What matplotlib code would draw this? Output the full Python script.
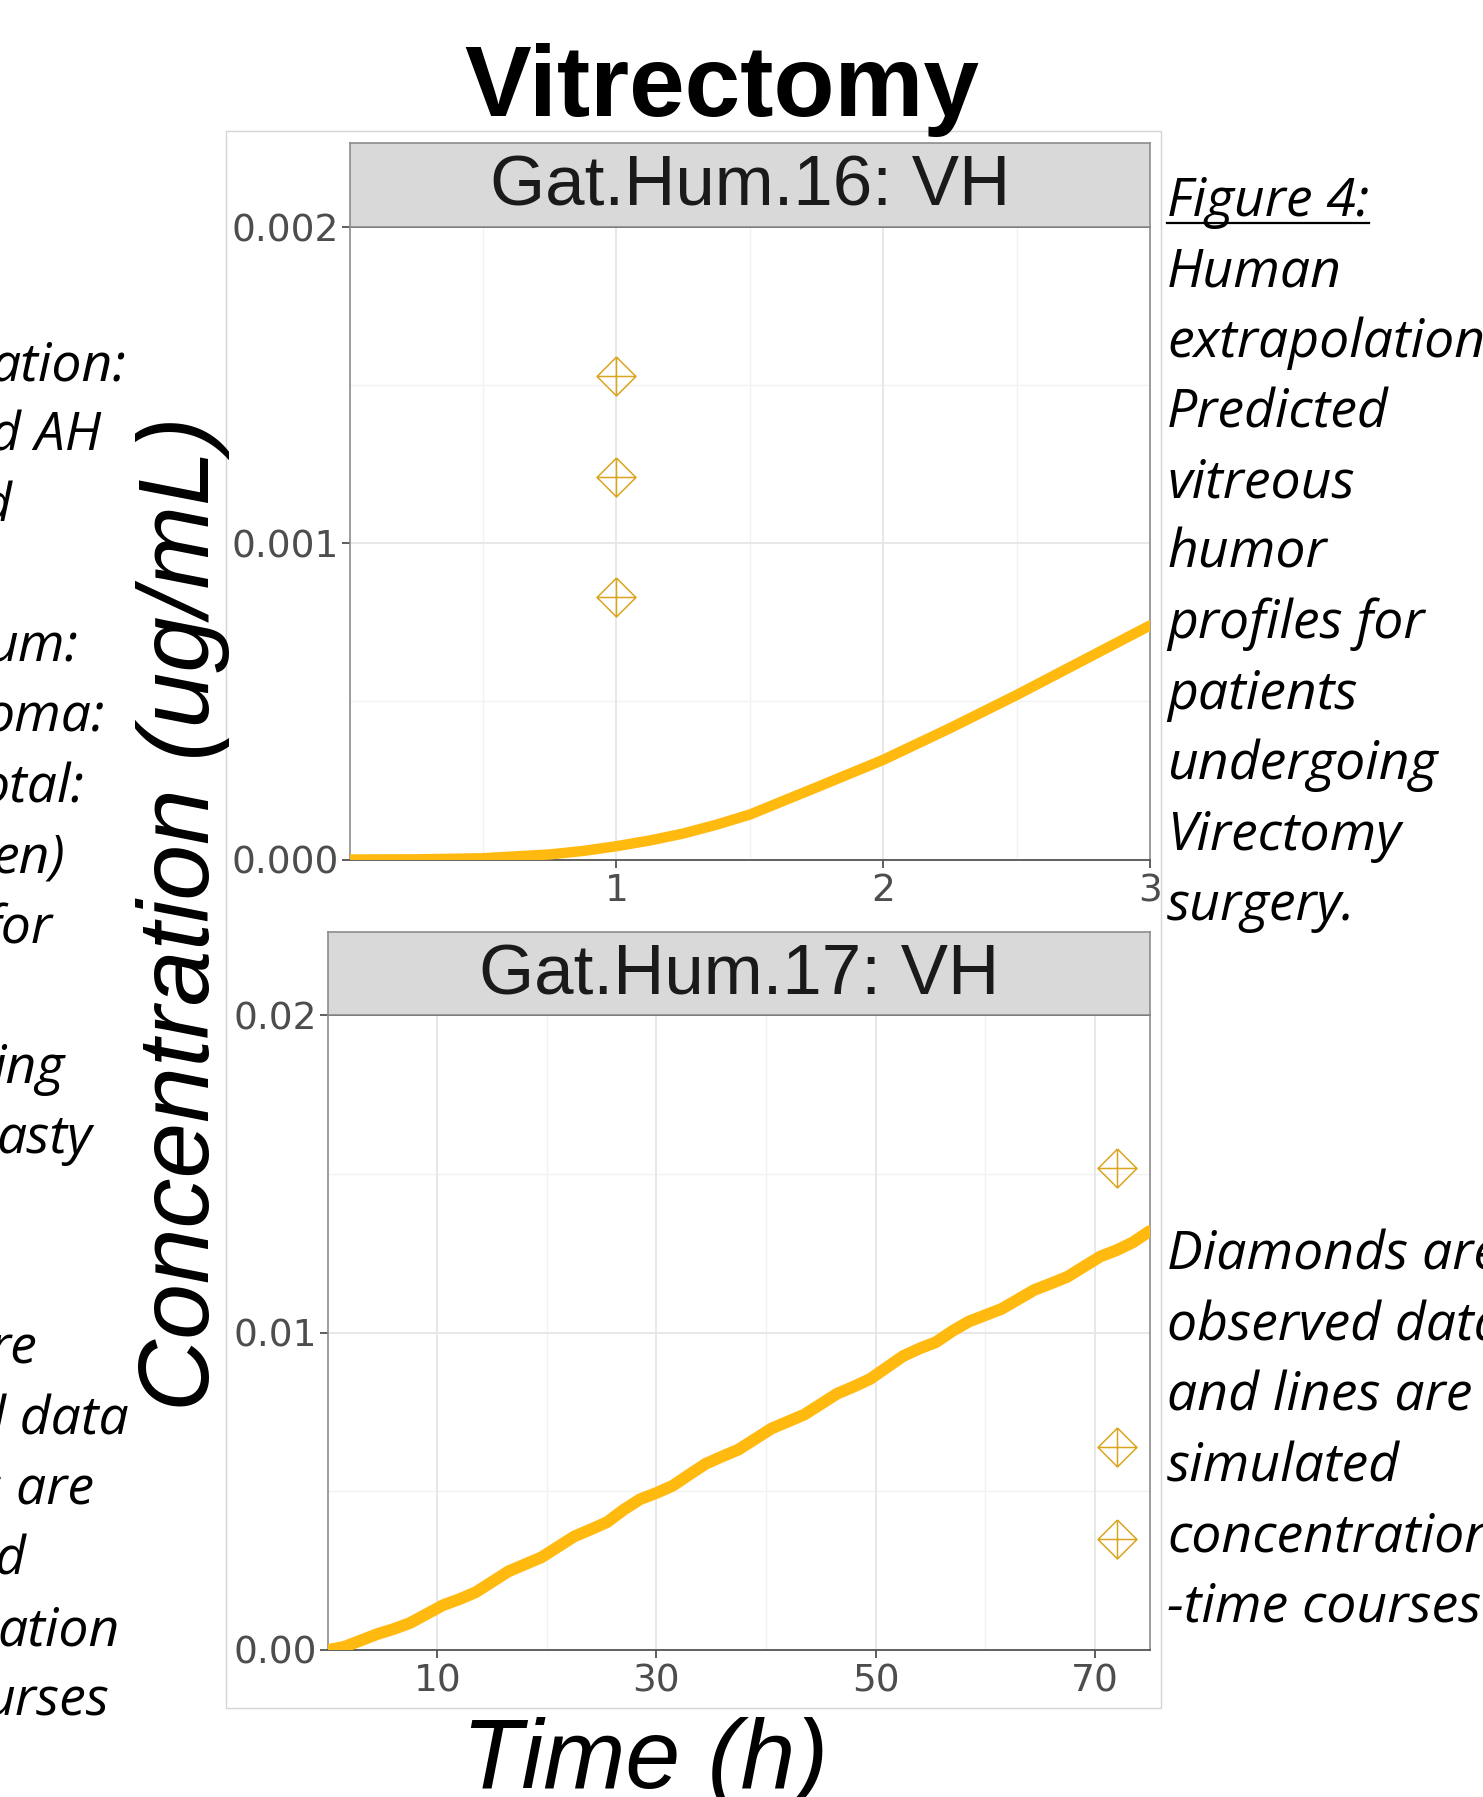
import numpy as np
import matplotlib
matplotlib.use("Agg")
import matplotlib.pyplot as plt
from matplotlib.path import Path
from matplotlib.patches import Rectangle
from matplotlib.lines import Line2D

W, H = 1483, 1797

# --- data ---
# Gat.Hum.16: VH  (time in h, concentration in ug/mL)
sim16_t = [0, 0.25, 0.5, 0.75, 0.875, 1, 1.125, 1.25, 1.375, 1.5, 1.625, 1.75,
           2, 2.25, 2.5, 2.75, 3]
sim16_c = [0, 0.0000005, 0.000004, 0.000016, 0.000027, 0.000042, 0.00006, 0.000082,
           0.00011, 0.000142, 0.000185, 0.000228, 0.000315, 0.000415, 0.00052,
           0.00063, 0.00074]
obs16_t = [1, 1, 1]
obs16_c = [0.00153, 0.00121, 0.00083]

# Gat.Hum.17: VH
sim17_t = [0, 1.5, 3, 4.5, 6, 7.5, 9, 10.5, 12, 13.5, 15, 16.5, 18, 19.5, 21, 22.5,
           24, 25.5, 27, 28.5, 30, 31.5, 33, 34.5, 36, 37.5, 39, 40.5, 42, 43.5,
           45, 46.5, 48, 49.5, 51, 52.5, 54, 55.5, 57, 58.5, 60, 61.5, 63, 64.5,
           66, 67.5, 69, 70.5, 72, 73.5, 75]
sim17_c = [0, 0.0001, 0.0003, 0.0005, 0.00066, 0.00085, 0.00113, 0.00141, 0.0016,
           0.00182, 0.00215, 0.00248, 0.0027, 0.00292, 0.00325, 0.00358, 0.0038,
           0.00403, 0.00442, 0.00475, 0.00495, 0.00518, 0.00553, 0.00587, 0.0061,
           0.00632, 0.00665, 0.00698, 0.0072, 0.00742, 0.00775, 0.00808, 0.0083,
           0.00854, 0.0089, 0.00926, 0.0095, 0.0097, 0.01005, 0.01035, 0.01055,
           0.01075, 0.01105, 0.01135, 0.01155, 0.01176, 0.01208, 0.0124, 0.0126,
           0.01285, 0.0132]
obs17_t = [72, 72, 72]
obs17_c = [0.0152, 0.0064, 0.0035]

right_top = ["Figure 4:", "Human", "extrapolation", "Predicted", "vitreous", "humor",
             "profiles for", "patients", "undergoing", "Virectomy", "surgery."]
right_bottom = ["Diamonds are", "observed data", "and lines are", "simulated",
                "concentration", "-time courses"]
# clipped text of the neighbouring column: (line index, fragment, right end px)
left_frags = [(-2, ".", 4), (0, "ation:", 126), (1, "d AH", 101), (2, "d", 11),
              (4, "um:", 78), (5, "oma:", 105), (6, "otal:", 84), (7, "en)", 65),
              (8, "for", 52), (10, "ing", 65), (11, "asty", 92), (14, "re", 37),
              (15, "d data", 129), (16, "s are", 94), (17, "d", 25),
              (18, "ation", 120), (19, "urses", 109)]

LINE_C = "#FFB90F"
OBS_C = "#DAA520"
CAP_FONT = dict(family=["Open Sans", "DejaVu Sans"], style="italic", size=38.5, color="black")

v = [(0, 1), (1, 0), (0, -1), (-1, 0), (0, 1), (-1, 0), (1, 0), (0, 1), (0, -1)]
c = [Path.MOVETO, Path.LINETO, Path.LINETO, Path.LINETO, Path.LINETO,
     Path.MOVETO, Path.LINETO, Path.MOVETO, Path.LINETO]
diamond_plus = Path(v, c)

fig = plt.figure(figsize=(W / 100, H / 100), dpi=100)
fig.patch.set_facecolor("white")


def box(x0, y0, x1, y1):
    return [x0 / W, 1 - y1 / H, (x1 - x0) / W, (y1 - y0) / H]


def ftext(x, y, s, **kw):
    return fig.text(x / W, 1 - y / H, s, **kw)


# outer plot frame
fig.patches.append(Rectangle((226 / W, 1 - 1708 / H), (1161 - 226) / W, (1708 - 131) / H,
                             transform=fig.transFigure, fill=False,
                             edgecolor="#D5D5D5", lw=1.0))


def panel(rect, strip_rect, title, t, conc, ot, oc, xlim, xt, xminor, yt, ylab, yminor, lw):
    ax = fig.add_axes(rect)
    ax.set_xlim(*xlim)
    ax.set_ylim(yt[0], yt[-1])
    for g in xminor:
        ax.axvline(g, color="#F2F2F2", lw=1.0, zorder=0)
    for g in yminor:
        ax.axhline(g, color="#F2F2F2", lw=1.0, zorder=0)
    for g in xt:
        ax.axvline(g, color="#E6E6E6", lw=1.3, zorder=0)
    for g in yt:
        ax.axhline(g, color="#E6E6E6", lw=1.3, zorder=0)
    ax.plot(t, conc, color=LINE_C, lw=lw, solid_capstyle="round", zorder=3)
    ax.plot(ot, oc, linestyle="none", marker=diamond_plus, ms=28, mfc="none",
            mec=OBS_C, mew=1.1, zorder=4)
    ax.set_xticks(xt)
    ax.set_xticklabels([str(x) for x in xt])
    ax.set_yticks(yt)
    ax.set_yticklabels(ylab)
    ax.tick_params(labelsize=27, labelcolor="#4D4D4D", color="#333333",
                   length=6, width=1.1, direction="out")
    ax.tick_params(axis="x", pad=4)
    ax.tick_params(axis="y", pad=2)
    for s in ["left", "right"]:
        ax.spines[s].set_color("#8C8C8C")
        ax.spines[s].set_linewidth(1.2)
    ax.spines["bottom"].set_color("#555555")
    ax.spines["bottom"].set_linewidth(1.3)
    ax.spines["top"].set_color("#333333")
    ax.spines["top"].set_linewidth(1.3)

    sax = fig.add_axes(strip_rect)
    sax.set_facecolor("#D9D9D9")
    sax.set_xticks([])
    sax.set_yticks([])
    for s in sax.spines.values():
        s.set_color("#8C8C8C")
        s.set_linewidth(1.2)
    sax.text(0.5, 0.47, title, ha="center", va="center", fontsize=51,
             color="#1A1A1A", family="Liberation Sans", transform=sax.transAxes)
    return ax


panel(box(349.5, 227, 1150, 859.5), box(349.5, 143, 1150, 227), "Gat.Hum.16: VH",
      sim16_t, sim16_c, obs16_t, obs16_c, (0, 3), [1, 2, 3], [0.5, 1.5, 2.5],
      [0, 0.001, 0.002], ["0.000", "0.001", "0.002"], [0.0005, 0.0015], 7.5)

panel(box(327.8, 1015.4, 1149.5, 1650), box(327.8, 931.7, 1149.5, 1015.4),
      "Gat.Hum.17: VH", sim17_t, sim17_c, obs17_t, obs17_c, (0, 75),
      [10, 30, 50, 70], [20, 40, 60], [0, 0.01, 0.02], ["0.00", "0.01", "0.02"],
      [0.005, 0.015], 8.5)

# titles and axis labels
ftext(722, 116, "Vitrectomy", ha="center", va="baseline", fontsize=72,
      fontweight="bold", family="Liberation Sans")
ftext(183, 914, "Concentration (ug/mL)", ha="center", va="center", rotation=90,
      fontsize=72, style="italic", family="Liberation Sans")
ftext(645, 1788, "Time (h)", ha="center", va="baseline", fontsize=71,
      style="italic", family="Liberation Sans")

# side captions
for i, s in enumerate(right_top):
    t = ftext(1167, 216 + 70.4 * i, s, ha="left", va="baseline", **CAP_FONT)
    if i == 0:
        fig_label = t
for i, s in enumerate(right_bottom):
    ftext(1167, 1270 + 70.4 * i, s, ha="left", va="baseline", **CAP_FONT)
for k, s, xr in left_frags:
    ftext(xr, 380.5 + 70.25 * k, s, ha="right", va="baseline", **CAP_FONT)

# underline "Figure 4:"
fig.canvas.draw()
bb = fig_label.get_window_extent()
fig.lines.append(Line2D([bb.x0 / W, bb.x1 / W], [1 - 223 / H, 1 - 223 / H],
                        transform=fig.transFigure, color="black", lw=1.6))

fig.savefig("out.png", dpi=100)
